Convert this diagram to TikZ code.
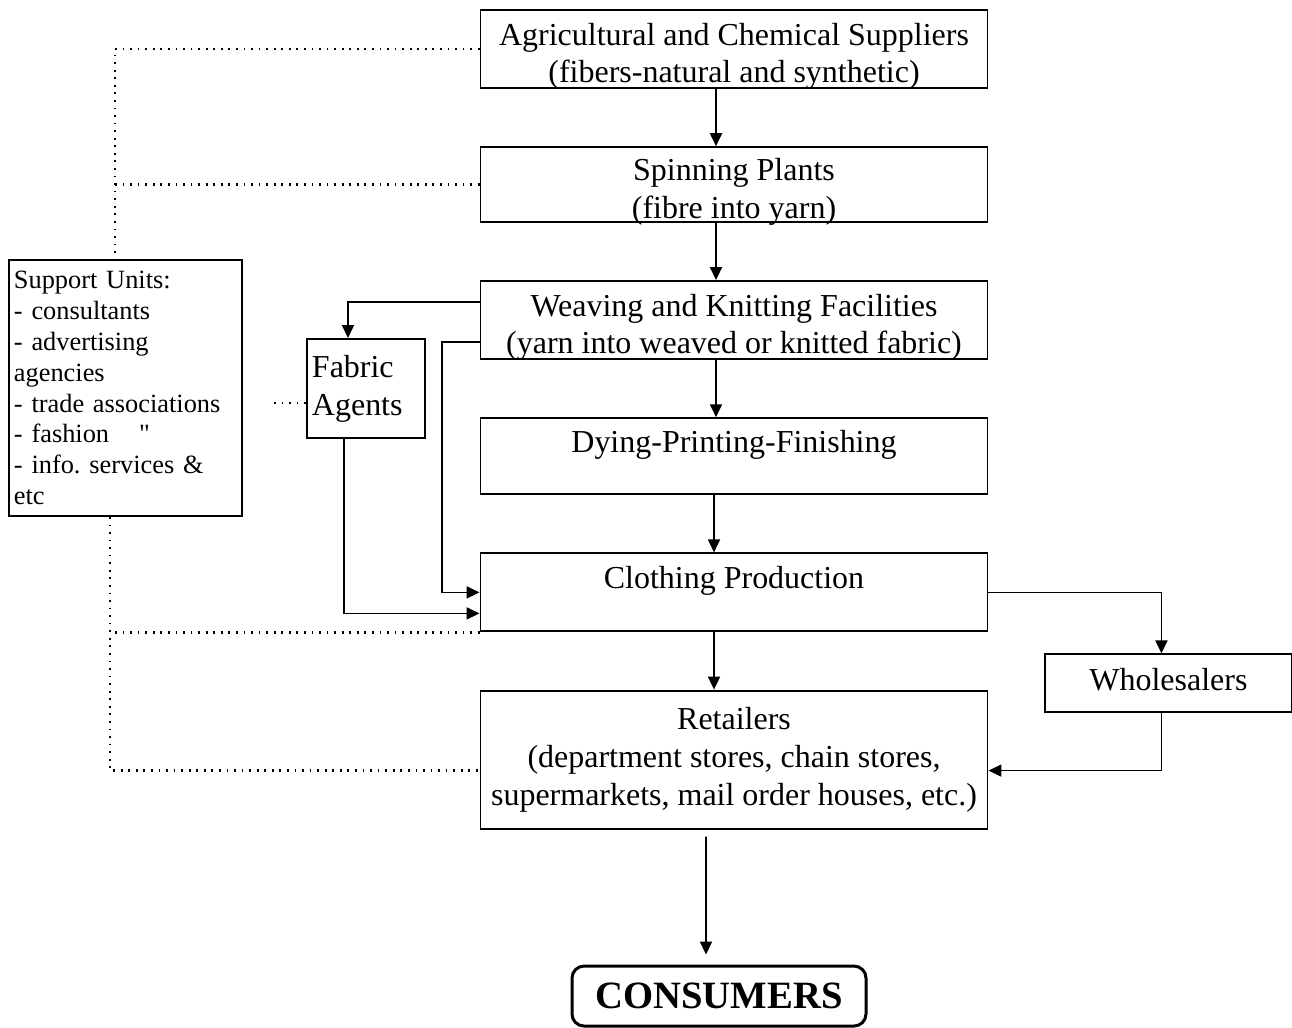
\documentclass[tikz,border=0pt]{standalone}
\usepackage{fontspec}
\setmainfont{Liberation Serif}
\newfontfamily\dittofont{Liberation Serif}[Ligatures=TeXOff]
\usetikzlibrary{arrows.meta,positioning}
\frenchspacing
\newcommand{\topstrut}{\rule{0pt}{17pt}}
\tikzset{
  box/.style={draw,line width=1.1pt,align=center,inner sep=0.7mm,minimum width=10.14cm,minimum height=1.56cm,font=\fontsize{18.2}{21.5}\selectfont},
  lowtext/.style={text depth=5.8mm},
  sidebox/.style={draw,line width=1.1pt,align=left,inner sep=1mm,anchor=north west},
  consbox/.style={draw,line width=1.7pt,rounded corners=2.4mm,minimum width=5.88cm,minimum height=1.2cm,font=\fontsize{22}{26}\selectfont\bfseries},
  ar/.style={-{Triangle[length=2.6mm,width=2.4mm]},line width=1pt},
  dotln/.style={line width=1.3pt,dash pattern=on 1pt off 3.3pt},
}
\begin{document}
\begin{tikzpicture}[node distance=11.45mm]
    \useasboundingbox (0,0) rectangle (25.84,-20.54);
    % main chain
    \node[box] (agri) at (14.68,-0.98) {\topstrut Agricultural and Chemical Suppliers\\\smash{(fibers-natural and synthetic)}};
    \node[box,minimum height=1.46cm,below=of agri] (spin) {\topstrut Spinning Plants\\\smash{(fibre into yarn)}};
    \node[box,below=of spin] (weave) {\topstrut Weaving and Knitting Facilities\\\smash{(yarn into weaved or knitted fabric)}};
    \node[box,lowtext,minimum height=1.52cm,below=of weave] (dye) {Dying-Printing-Finishing};
    \node[box,lowtext,below=of dye] (cloth) {Clothing Production};
    \node[box,minimum height=2.76cm,below=of cloth] (retail) {Retailers\\(department stores, chain stores,\\supermarkets, mail order houses, etc.)};
    \node[consbox,below=27mm of retail,xshift=-3mm] (cons) {CONSUMERS};
    \node[box,text depth=1.6mm,minimum width=4.94cm,minimum height=1.16cm,below right=4.2mm and 11.1mm of cloth] (whole) {Wholesalers};
    % side boxes
    \node[sidebox,minimum height=5.12cm,text width=4.46cm,font=\fontsize{15}{17.6}\selectfont] (support) at (0.16,-5.18) {Support Units:\\- consultants\\- advertising\\agencies\\- trade associations\\- fashion\hspace{0.6cm}{\dittofont"}\\- info. services \&\\etc};
    \node[sidebox,minimum height=1.98cm,text width=2.16cm,font=\fontsize{18.2}{21.5}\selectfont] (fabric) at (6.12,-6.76) {Fabric\\Agents};
    \coordinate (suptop) at ([xshift=-2.1mm]support.north);
    \coordinate (supbot) at ([xshift=-3.1mm]support.south);
    \coordinate (fabdot) at ([xshift=-7.2mm,yshift=-2.9mm]fabric.west);
    % flow
    \draw[ar] ([xshift=-3.6mm]agri.south) -- ([xshift=-3.6mm]spin.north);
    \draw[ar] ([xshift=-3.6mm]spin.south) -- ([xshift=-3.6mm]weave.north);
    \draw[ar] ([xshift=-3.6mm]weave.south) -- ([xshift=-3.6mm]dye.north);
    \draw[ar] ([xshift=-4mm]dye.south) -- ([xshift=-4mm]cloth.north);
    \draw[ar] ([xshift=-4mm]cloth.south) -- ([xshift=-4mm]retail.north);
    \draw[ar,shorten <=1.4mm,shorten >=2mm] ([xshift=-5.6mm]retail.south) -- ([xshift=-2.6mm]cons.north);
    \draw[ar] ([yshift=3.6mm]weave.west) -| ([xshift=-3.6mm]fabric.north);
    \draw[ar] ([yshift=-4.4mm]weave.west) -- ++(-0.75,0) |- (cloth.west);
    \draw[ar] ([xshift=-4.4mm]fabric.south) |- ([yshift=-4.2mm]cloth.west);
    \draw[ar] (cloth.east) -| ([xshift=-1.4mm]whole.north);
    \draw[ar] ([xshift=-1.4mm]whole.south) |- ([yshift=-2.2mm]retail.east);
    % support links
    \draw[dotln] (agri.west) -| (suptop);
    \draw[dotln] (spin.west) -- (spin.west -| suptop);
    \draw[dotln] (supbot) |- ([yshift=-2.2mm]retail.west);
    \draw[dotln] (cloth.south west) -- (cloth.south west -| supbot);
    \draw[dotln] ([yshift=-2.9mm]fabric.west) -- (fabdot);
\end{tikzpicture}
\end{document}
